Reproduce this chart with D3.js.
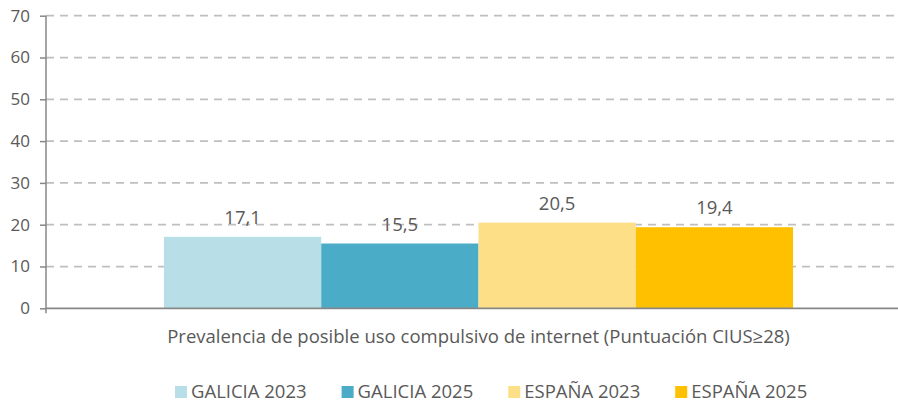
<!DOCTYPE html>
<html>
<head>
<meta charset="utf-8">
<script src="https://cdn.jsdelivr.net/npm/d3@7"></script>
<style>
  body { margin: 0; background: #fff; }
  svg text { font-family: "Open Sans", sans-serif; fill: #595959; }
</style>
</head>
<body>
<svg id="chart" width="898" height="402"></svg>
<script>
// chart values
var categories = ["Prevalencia de posible uso compulsivo de internet (Puntuación CIUS≥28)"];
var series = ["GALICIA 2023", "GALICIA 2025", "ESPAÑA 2023", "ESPAÑA 2025"];
var values = [17.1, 15.5, 20.5, 19.4];
var yTicks = [0, 10, 20, 30, 40, 50, 60, 70];
var colors = ["#b8dfe7", "#4aacc6", "#fddf87", "#ffc000"];

var svg = d3.select("#chart");
// plot box (the right side runs past the picture edge, as in the original)
var plotLeft = 46, plotRight = 911, plotTop = 15.7, plotBottom = 308.3;

var y = d3.scaleLinear().domain([0, 70]).range([plotBottom, plotTop]);

// outer category band, then one band per series inside it
var x0 = d3.scaleBand().domain(categories).range([plotLeft, plotRight])
  .paddingInner(0).paddingOuter(0.1875);
var x1 = d3.scaleBand().domain(series).range([0, x0.bandwidth()]).padding(0);

// dashed gridlines
svg.append("g")
  .selectAll("line")
  .data(yTicks.filter(function(d) { return d > 0; }))
  .enter()
  .append("line")
  .attr("x1", plotLeft)
  .attr("x2", plotRight)
  .attr("y1", function(d) { return y(d); })
  .attr("y2", function(d) { return y(d); })
  .attr("stroke", "#bfbfbf")
  .attr("stroke-width", 1.75)
  .attr("stroke-dasharray", "8,6");

// bars
var group = svg.append("g")
  .attr("transform", "translate(" + x0(categories[0]) + ",0)");

group.selectAll("rect")
  .data(values)
  .enter()
  .append("rect")
  .attr("x", function(d, i) { return x1(series[i]); })
  .attr("y", function(d) { return y(d); })
  .attr("width", x1.bandwidth())
  .attr("height", function(d) { return y(0) - y(d); })
  .attr("fill", function(d, i) { return colors[i]; });

// value labels
group.selectAll("text.val")
  .data(values)
  .enter()
  .append("text")
  .attr("class", "val")
  .attr("x", function(d, i) { return x1(series[i]) + x1.bandwidth() / 2; })
  .attr("y", function(d) { return y(d) - 13; })
  .attr("text-anchor", "middle")
  .style("font-size", "18.5px")
  .text(function(d) { return d.toFixed(1).replace(".", ","); });

// y axis
var yAxis = d3.axisLeft(y).tickValues(yTicks).tickSize(6).tickPadding(10);
var gy = svg.append("g")
  .attr("transform", "translate(" + plotLeft + ",0)")
  .call(yAxis);
gy.selectAll("path, line").attr("stroke", "#878787").attr("stroke-width", 1.5);
gy.select(".domain").attr("d", "M0," + plotTop + "V" + (plotBottom + 5));
gy.selectAll("text")
  .style("font-size", "17px")
  .style("font-family", "'Open Sans', sans-serif")
  .attr("fill", "#595959");

// x axis baseline
svg.append("line")
  .attr("x1", plotLeft)
  .attr("x2", plotRight)
  .attr("y1", y(0))
  .attr("y2", y(0))
  .attr("stroke", "#878787")
  .attr("stroke-width", 1.75);

// category label
svg.append("text")
  .attr("x", x0(categories[0]) + x0.bandwidth() / 2)
  .attr("y", 343)
  .attr("text-anchor", "middle")
  .style("font-size", "18.5px")
  .text(categories[0]);

// legend
var legend = svg.append("g").attr("transform", "translate(175,398)");
var lx = 0;
series.forEach(function(s, i) {
  var item = legend.append("g").attr("transform", "translate(" + lx + ",0)");
  item.append("rect")
    .attr("x", 0).attr("y", -12)
    .attr("width", 12).attr("height", 12)
    .attr("fill", colors[i]);
  var t = item.append("text")
    .attr("x", 16).attr("y", 0)
    .style("font-size", "18.5px")
    .text(s);
  lx += 16 + t.node().getComputedTextLength() + 35;
});
</script>
</body>
</html>
